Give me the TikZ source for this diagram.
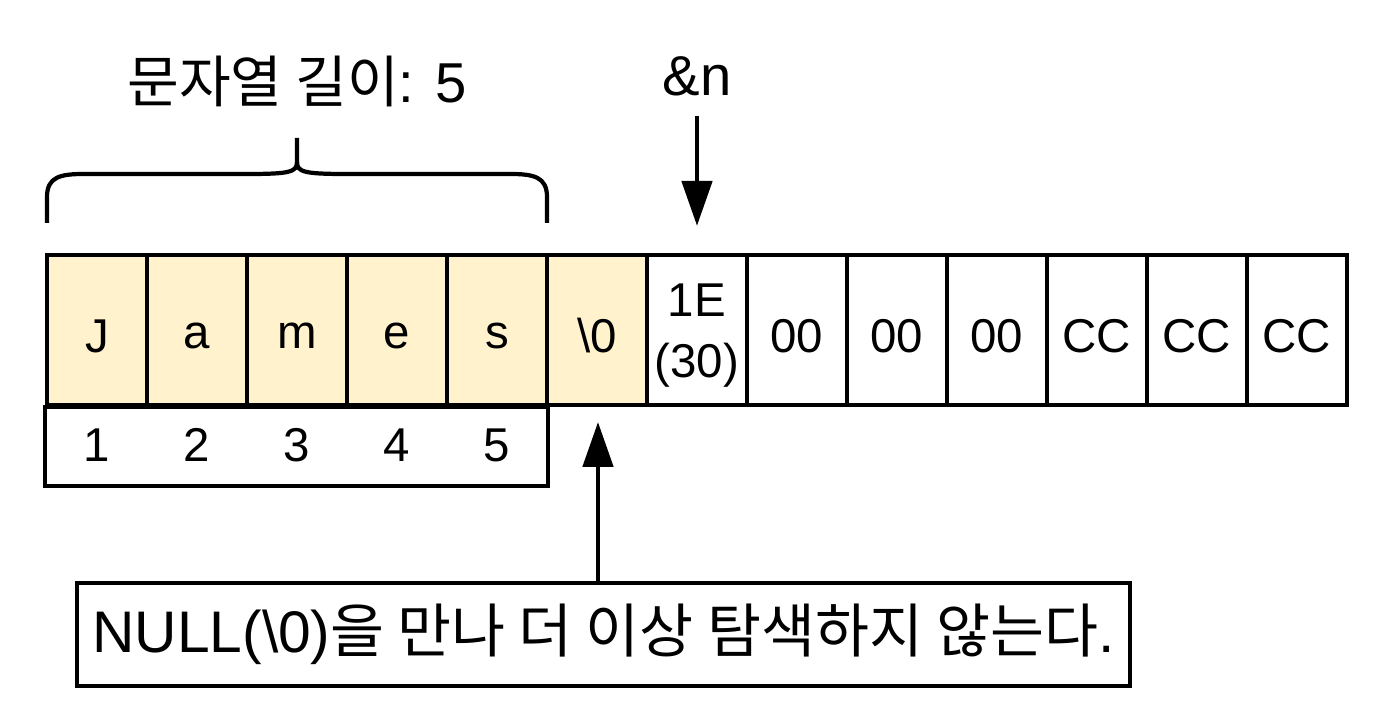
\documentclass[tikz,border=0pt]{standalone}
\usepackage{fontspec}
\setmainfont{Liberation Sans}
\newfontfamily\kr{Noto Sans CJK KR}
\usetikzlibrary{arrows.meta,positioning,calc}
\definecolor{StrFill}{HTML}{FFF2CC}
\definecolor{MemInk}{HTML}{000000}

\begin{document}
\begin{tikzpicture}[
    cell/.style={
      draw=MemInk,
      line width=1.2pt,
      fill=#1,
      minimum width=1cm,
      minimum height=1.5cm,
      inner sep=0pt
    },
    cell/.default=white,
    celltxt/.style={
      font=\fontsize{13.5}{17.4}\selectfont,
      align=center,
      inner sep=0pt,
      yshift=-0.06cm
    },
    idx/.style={
      minimum width=1cm,
      minimum height=0.8cm,
      inner sep=0pt,
      font=\fontsize{13.5}{15}\selectfont
    },
    lbl/.style={
      font=\fontsize{16}{18}\selectfont,
      color=MemInk
    },
    note/.style={
      draw=MemInk,
      line width=1.2pt,
      minimum width=10.53cm,
      minimum height=1.03cm,
      inner sep=0pt,
      font=\fontsize{16.7}{18}\selectfont
    },
    ptr/.style={
      -{Triangle[length=0.45cm,width=0.3cm]},
      line width=1.4pt,
      color=MemInk
    }
  ]
  \useasboundingbox (0,0) rectangle (13.96,7.22);

  % string cells
  \foreach \v [count=\i] in {J,a,m,e,s,\textbackslash 0} {
    \node[cell=StrFill,label={[celltxt]center:\v}] (c\i) at (\i-0.03,3.92) {};
  }
  % bytes after the string
  \foreach \v [count=\i from 7] in {{1E\\(30)},00,00,00,CC,CC,CC} {
    \node[cell,label={[celltxt]center:{\v}}] (c\i) at (\i-0.03,3.92) {};
  }

  % index row
  \foreach \i in {1,...,5} {
    \node[idx] (n\i) at (\i-0.03,2.77) {\i};
  }
  \draw[line width=1.2pt] (c1.south west) rectangle (n5.south east);

  % brace over the string
  \draw[line width=1.2pt]
    (0.47,4.99) -- (0.47,5.25)
    .. controls (0.47,5.45) and (0.60,5.48) .. (0.84,5.48)
    -- (2.48,5.48)
    .. controls (2.90,5.48) and (2.97,5.50) .. (2.97,5.60)
    -- (2.97,5.84);
  \draw[line width=1.2pt]
    (5.47,4.99) -- (5.47,5.25)
    .. controls (5.47,5.45) and (5.34,5.48) .. (5.10,5.48)
    -- (3.46,5.48)
    .. controls (3.04,5.48) and (2.97,5.50) .. (2.97,5.60);
  \node[lbl] (len) at (2.97,6.41) {{\kr 문자열 길이}: 5};

  % pointer n
  \node[lbl] (addr) at (6.97,6.46) {\&n};
  \draw[ptr,shorten <=0.08cm,shorten >=0.27cm] (addr) -- (c7);

  % note about NULL
  \node[note] (msg) at (6.035,0.875)
    {NULL(\textbackslash 0){\kr 을 만나 더 이상 탐색하지 않는다}.};
  \coordinate (nul) at (5.98,3.0);
  \draw[ptr] (msg.north -| nul) -- (nul);

\end{tikzpicture}
\end{document}
